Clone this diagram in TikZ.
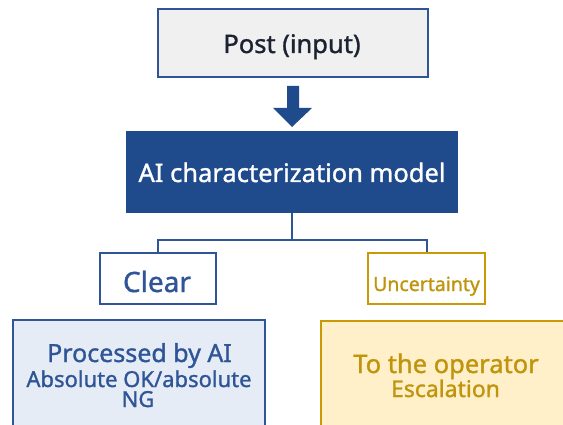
\documentclass[tikz,border=0pt]{standalone}
\usepackage{fontspec}
\setmainfont{Noto Sans}
\newfontfamily\diagfont{Noto Sans}[FakeBold=1.2]
\usetikzlibrary{calc}
\definecolor{navy}{HTML}{2F5597}
\definecolor{deepnavy}{HTML}{1F4A8B}
\definecolor{inkdark}{HTML}{1B2231}
\definecolor{lightgray}{HTML}{F0F0F0}
\definecolor{gold}{HTML}{C99A06}
\definecolor{goldtext}{HTML}{C0940C}
\definecolor{paleblue}{HTML}{E6ECF6}
\definecolor{palegold}{HTML}{FFF0C9}
\newcommand{\fsz}[1]{\diagfont\fontsize{#1}{#1}\selectfont}
\tikzset{
  x=1pt, y=-1pt,
  box/.style={draw, line width=2pt, rectangle, inner sep=0pt},
  postbox/.style={box, draw=navy, fill=lightgray},
  modelbox/.style={box, draw=deepnavy, fill=deepnavy},
  clearbox/.style={box, draw=navy, fill=white},
  unsurebox/.style={box, draw=gold, fill=white},
  procbox/.style={box, draw=navy, fill=paleblue},
  escbox/.style={box, draw=gold, fill=palegold},
  link/.style={draw=navy, line width=2pt},
  txt/.style={inner sep=0pt, anchor=base},
}
\begin{document}
\begin{tikzpicture}
\useasboundingbox (0,0) rectangle (563,425);
\clip (0,0) rectangle (563,425);

% input and model
\node[postbox, minimum width=270pt, minimum height=68pt] (post) at (293,43) {};
\node[modelbox, minimum width=330pt, minimum height=80pt] (ai) at (292,172) {};
\node[txt, text=inkdark, font=\fsz{25.5}] (posttext) at (292,53) {Post~(input)};
\node[txt, text=white, font=\fsz{25.5}] (aitext) at (292,182) {AI characterization model};

% block arrow between them
\fill[deepnavy] ($(post.south)+(-6,8)$) -- ($(post.south)+(6,8)$) -- ($(post.south)+(6,30)$)
  -- ($(post.south)+(19,30)$) -- ($(ai.north)+(0,-4)$) -- ($(post.south)+(-20,30)$)
  -- ($(post.south)+(-6,30)$) -- cycle;

% decision boxes
\node[clearbox, minimum width=116pt, minimum height=51pt] (clear) at (158,278.5) {};
\node[unsurebox, minimum width=117pt, minimum height=51pt] (unsure) at (426.5,278.5) {};
\node[txt, text=navy, font=\fsz{28}] (cleartext) at (157,292) {Clear};
\node[txt, text=goldtext, font=\fsz{19.5}] (unsuretext) at (426.5,291) {Uncertainty};

% branching connector
\coordinate (split) at ($(ai.south)+(0,27)$);
\draw[link] (ai.south) -- (split);
\draw[link] (split) -| (clear.north);
\draw[link] (split) -| (unsure.north);

% outcome boxes (run past the lower edge)
\node[procbox, minimum width=252pt, minimum height=150pt] (proc) at (139,395) {};
\node[escbox, minimum width=260pt, minimum height=150pt] (esc) at (451,396) {};

\node[txt, text=navy, font=\fsz{25}] (proc1) at (139.5,362) {Processed by AI};
\node[txt, text=navy, font=\fsz{22}] (proc2) at (139,387) {Absolute OK/absolute};
\node[txt, text=navy, font=\fsz{22}] (proc3) at (138,407) {NG};
\node[txt, text=goldtext, font=\fsz{25.5}] (esc1) at (446,373) {To the operator};
\node[txt, text=goldtext, font=\fsz{23}] (esc2) at (445.5,397) {Escalation};
\end{tikzpicture}
\end{document}
